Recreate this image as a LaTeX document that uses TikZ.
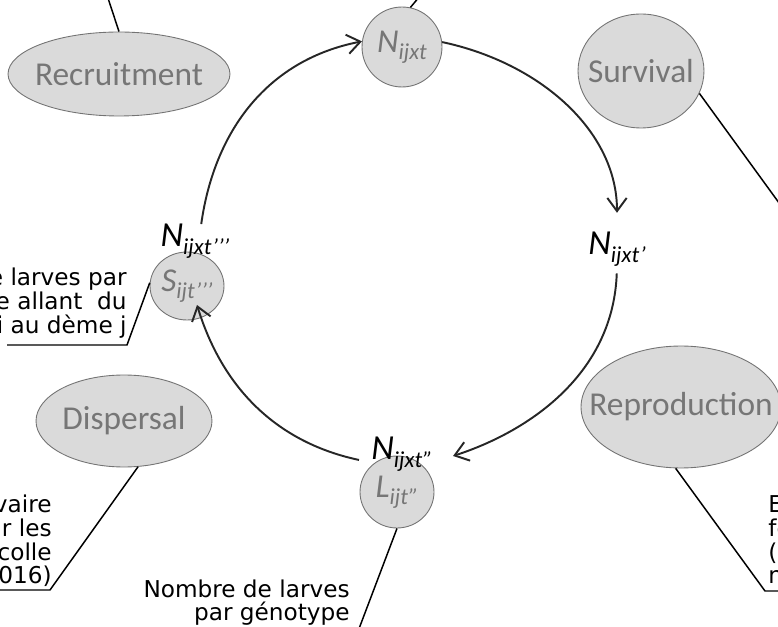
\documentclass[tikz,border=0pt]{standalone}
\usepackage{fontspec}
\setmainfont{DejaVu Sans}
\newfontfamily\calfont{Carlito}
\usetikzlibrary{shapes.geometric,arrows.meta,calc}

\definecolor{bubblefill}{RGB}{218,218,218}
\definecolor{bubbletext}{RGB}{118,118,118}
\definecolor{bubbleline}{RGB}{115,115,115}
\newcommand{\lowidx}[1]{\raisebox{-4pt}{\fontsize{13}{13}\selectfont #1}}

\begin{document}
\begin{tikzpicture}[x=0.02cm,y=0.02cm,
  bubble/.style={ellipse, draw=bubbleline, line width=0.5pt, fill=bubblefill, inner sep=0pt},
  bubblelabel/.style={inner sep=0pt, text=bubbletext, font=\calfont\fontsize{19}{20}\selectfont},
  statelabel/.style={inner sep=0pt, font=\calfont\itshape\fontsize{20}{21}\selectfont},
  note/.style={inner sep=0pt, font=\fontsize{13.2}{14}\selectfont},
  cyclearrow/.style={draw=black!85, line width=1.1pt, -{Straight Barb[length=7.5pt,width=11pt]}},
  pointer/.style={draw=black, line width=0.85pt}]
\useasboundingbox (0,0) rectangle (778,626);
\clip (0,0) rectangle (778,626);

% process bubbles
\node[bubble, minimum width=4.44cm, minimum height=1.68cm, label={[bubblelabel]center:Recruitment}] (recruit) at (119,552) {};
\node[bubble, minimum width=2.52cm, minimum height=2.28cm, label={[bubblelabel]center:Survival}] (survive) at (641,555) {};
\node[bubble, minimum width=3.52cm, minimum height=1.84cm, label={[bubblelabel]center:Dispersal}] (disperse) at (124,205) {};
\node[bubble, minimum width=4.0cm, minimum height=2.44cm, label={[bubblelabel]center:Reproduction}] (reproduce) at (681,219) {};

% state circles
\node[bubble, minimum size=1.6cm, label={[bubblelabel,font=\calfont\itshape\fontsize{19}{20}\selectfont]center:N\lowidx{ijxt}}] (Nt) at (402,579) {};
\node[bubble, minimum width=1.48cm, minimum height=1.44cm, label={[bubblelabel,font=\calfont\itshape\fontsize{19}{20}\selectfont]center:L\lowidx{ijt”}}] (Lt) at (397,134) {};
\node[bubble, minimum width=1.48cm, minimum height=1.36cm, label={[bubblelabel,font=\calfont\itshape\fontsize{19}{20}\selectfont]center:S\lowidx{ijt’’’}}] (St) at (187,340) {};

\node[statelabel, anchor=base] (Nl1) at (617,371) {N\lowidx{ijxt’}};
\node[statelabel, anchor=base] (Nl2) at (402,166) {N\lowidx{ijxt”}};
\node[statelabel, anchor=base] (Nl3) at (195,379) {N\lowidx{ijxt’’’}};

% life cycle
\coordinate (Sin) at ($(St.center)+(10,-19)$);
\draw[cyclearrow] (Nl3.70) to[out=82, in=191] (Nt.172);
\draw[cyclearrow, shorten >=11pt] (Nt.7) to[out=-12, in=90] (Nl1.north);
\draw[cyclearrow, shorten <=4pt, shorten >=12pt] (Nl1.south) to[out=-92, in=18] (Nl2.-15);
\draw[cyclearrow, shorten <=7pt] (Nl2.195) to[out=168, in=-73] (Sin);

% call-outs
\coordinate (recTop) at (106,634);
\coordinate (ntTop) at (425,636);
\coordinate (surEnd) at (790,408);
\coordinate (sKnee) at (127,281);
\coordinate (sEnd) at (7,281);
\coordinate (dKnee) at (50,36);
\coordinate (dEnd) at (-5,36);
\coordinate (lEnd) at (357,-8);
\coordinate (rKnee) at (765,35);
\coordinate (rEnd) at (790,35);
\draw[pointer] (recruit.north) -- (recTop);
\draw[pointer] (Nt.78) -- (ntTop);
\draw[pointer] (survive.-21) -- (surEnd);
\draw[pointer] (St.175) -- (sKnee) -- (sEnd);
\draw[pointer] (disperse.-73) -- (dKnee) -- (dEnd);
\draw[pointer] (Lt.south) -- (lEnd);
\draw[pointer] (reproduce.-95) -- (rKnee) -- (rEnd);

\foreach \txt [count=\k] in {e larves par, e allant~ du, i au dème j}
  \node[note, anchor=base east] (noteS\k) at (127,364-24*\k) {\txt};
\node[note, anchor=base east] (noteD1) at (52,113) {vaire};
\node[note, anchor=base east] (noteD2) at (52,89.5) {r les};
\node[note, anchor=base east] (noteD3) at (52,66) {colle};
\node[note, anchor=base east] (noteD4) at (52,42.5) {016)};
\node[note, anchor=base west] (noteR1) at (768,113) {E};
\node[note, anchor=base west] (noteR2) at (768,89.5) {fe};
\node[note, anchor=base west] (noteR3) at (768,66) {(c};
\node[note, anchor=base west] (noteR4) at (768,42.5) {n};
\node[note, anchor=base east] (noteL1) at (350,29) {Nombre de larves};
\node[note, anchor=base east] (noteL2) at (350,6) {par génotype};
\end{tikzpicture}
\end{document}
